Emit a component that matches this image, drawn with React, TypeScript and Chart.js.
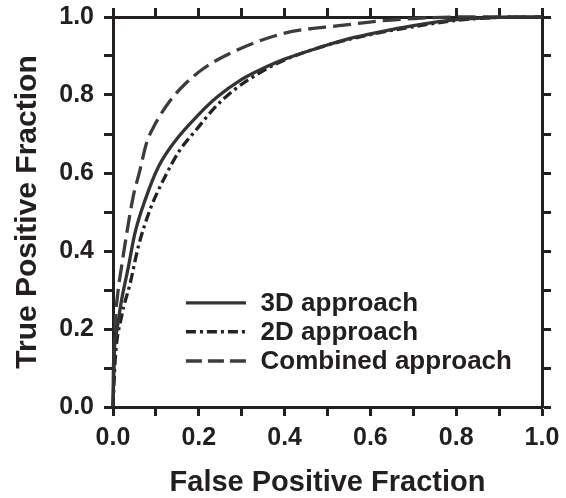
import React, { useEffect, useRef } from "react";
import { Chart, registerables } from "chart.js";

Chart.register(...registerables);

const fpr3D = [0, 0.001, 0.008, 0.02, 0.036, 0.051, 0.075, 0.106, 0.145, 0.199, 0.242, 0.3, 0.359, 0.4, 0.476, 0.553, 0.623, 0.7, 0.8, 0.9, 1.0];
const tpr3D = [0, 0.1, 0.19, 0.274, 0.36, 0.445, 0.531, 0.616, 0.682, 0.749, 0.794, 0.84, 0.873, 0.892, 0.92, 0.945, 0.962, 0.978, 0.993, 0.999, 1.0];

const fpr2D = [0, 0.005, 0.02, 0.04, 0.059, 0.086, 0.121, 0.156, 0.195, 0.235, 0.281, 0.35, 0.4, 0.5, 0.6, 0.7, 0.8, 0.9, 1.0];
const tpr2D = [0, 0.12, 0.232, 0.317, 0.411, 0.505, 0.59, 0.659, 0.712, 0.765, 0.812, 0.862, 0.89, 0.928, 0.955, 0.975, 0.991, 0.999, 1.0];

const fprComb = [0, 0.002, 0.005, 0.011, 0.02, 0.032, 0.047, 0.063, 0.078, 0.098, 0.133, 0.165, 0.211, 0.281, 0.398, 0.538, 0.623, 0.7, 0.8, 1.0];
const tprComb = [0, 0.08, 0.206, 0.29, 0.36, 0.445, 0.539, 0.608, 0.676, 0.725, 0.785, 0.825, 0.868, 0.911, 0.958, 0.979, 0.99, 0.996, 1.0, 1.0];

const seriesNames = ["3D approach", "2D approach", "Combined approach"];
const tickLabels = ["0.0", "0.2", "0.4", "0.6", "0.8", "1.0"];
const xTitle = "False Positive Fraction";
const yTitle = "True Positive Fraction";

const FONT = "'Liberation Sans', Arial, Helvetica, sans-serif";
const AXIS = "#231f20";
const COLORS = ["#333333", "#222222", "#3c3c3c"];
const DASHES = [[], [10, 4, 3, 4], [18, 7]];

function pts(xs: number[], ys: number[]) {
  return xs.map((x, i) => ({ x, y: ys[i] }));
}

const legendPlugin = {
  id: "customLegend",
  afterDatasetsDraw(chart: any) {
    const { ctx } = chart;
    const xs = chart.scales.x;
    const ys = chart.scales.y;
    const x0 = xs.getPixelForValue(0.17);
    const x1 = xs.getPixelForValue(0.31);
    const tx = xs.getPixelForValue(0.344);
    const rowsY = [0.267, 0.193, 0.118];
    ctx.save();
    seriesNames.forEach((name, i) => {
      const y = ys.getPixelForValue(rowsY[i]);
      ctx.beginPath();
      ctx.setLineDash(i === 2 ? [16, 6] : DASHES[i]);
      ctx.lineWidth = 3.3;
      ctx.strokeStyle = COLORS[i];
      ctx.moveTo(x0, y);
      ctx.lineTo(x1, y);
      ctx.stroke();
      ctx.setLineDash([]);
      ctx.fillStyle = AXIS;
      ctx.font = `bold 26px ${FONT}`;
      ctx.textBaseline = "middle";
      ctx.textAlign = "left";
      ctx.fillText(name, tx, y + 1);
    });
    ctx.restore();
  },
};

function zeroPad(s: any) {
  s.paddingTop = 0;
  s.paddingBottom = 0;
  s.paddingLeft = 0;
  s.paddingRight = 0;
}

export default function App() {
  const ref = useRef<HTMLCanvasElement>(null);
  useEffect(() => {
    if (!ref.current) return;
    const label = (v: any, i: number) => (i % 2 === 0 ? tickLabels[i / 2] : "");
    const baseGrid = {
      drawOnChartArea: false,
      drawTicks: true,
      tickLength: 9,
      tickWidth: 3,
      color: AXIS,
    };
    const border = { display: true, width: 3, color: AXIS };
    const tickFont = { family: FONT, size: 25, weight: "bold" as const };
    const xTitleFont = { family: FONT, size: 29, weight: "bold" as const };
    const yTitleFont = { family: FONT, size: 30, weight: "bold" as const };
    const chart = new Chart(ref.current, {
      type: "scatter",
      data: {
        datasets: [
          { label: seriesNames[0], data: pts(fpr3D, tpr3D), borderDash: DASHES[0], borderColor: COLORS[0] },
          { label: seriesNames[1], data: pts(fpr2D, tpr2D), borderDash: DASHES[1], borderColor: COLORS[1] },
          { label: seriesNames[2], data: pts(fprComb, tprComb), borderDash: DASHES[2], borderColor: COLORS[2] },
        ].map((d) => ({
          ...d,
          showLine: true,
          backgroundColor: d.borderColor,
          borderWidth: 3.3,
          pointRadius: 0,
          cubicInterpolationMode: "monotone" as const,
          fill: false,
          clip: 3,
        })),
      },
      options: {
        animation: false,
        responsive: false,
        maintainAspectRatio: false,
        layout: { padding: 0 },
        plugins: { legend: { display: false }, tooltip: { enabled: false } },
        scales: {
          x: {
            type: "linear",
            position: "bottom",
            min: 0,
            max: 1,
            grid: baseGrid,
            border,
            ticks: { stepSize: 0.1, callback: label, color: AXIS, font: tickFont, padding: 7, maxRotation: 0, autoSkip: false },
            title: { display: true, text: xTitle, color: AXIS, font: xTitleFont, padding: { top: 0, bottom: -2 } },
            afterFit: (s: any) => { s.height = 91; zeroPad(s); },
          },
          x2: {
            type: "linear",
            position: "top",
            min: 0,
            max: 1,
            grid: baseGrid,
            border,
            ticks: { stepSize: 0.1, display: false },
            afterFit: (s: any) => { s.height = 17; zeroPad(s); },
          },
          y: {
            type: "linear",
            position: "left",
            min: 0,
            max: 1,
            grid: baseGrid,
            border,
            ticks: { stepSize: 0.1, callback: label, color: AXIS, font: tickFont, padding: 10, autoSkip: false },
            title: { display: true, text: yTitle, color: AXIS, font: yTitleFont, padding: { top: 10, bottom: 0 } },
            afterFit: (s: any) => { s.width = 113; zeroPad(s); },
          },
          y2: {
            type: "linear",
            position: "right",
            min: 0,
            max: 1,
            grid: baseGrid,
            border,
            ticks: { stepSize: 0.1, display: false },
            afterFit: (s: any) => { s.width = 24; zeroPad(s); },
          },
        },
      },
      plugins: [legendPlugin],
    } as any);
    return () => chart.destroy();
  }, []);
  return (
    <div style={{ position: "fixed", left: 0, top: 0, width: 566, height: 498, background: "#fff" }}>
      <canvas ref={ref} width={566} height={498} />
    </div>
  );
}
